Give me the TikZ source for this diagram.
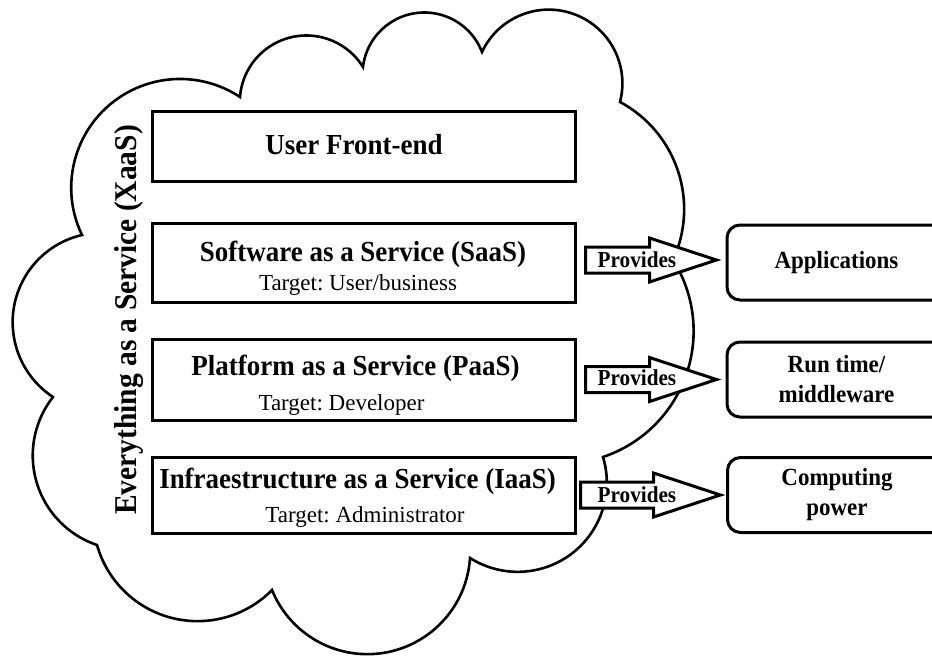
\documentclass[tikz,border=0pt]{standalone}
\usepackage{fontspec}
\setmainfont{Liberation Serif}
\newfontfamily\narrowserif[FakeStretch=0.93]{Liberation Serif}
\usetikzlibrary{calc,svg.path}
\frenchspacing

\tikzset{
  cloudline/.style={draw=black, line width=2.6pt, line join=miter},
  layer/.style={draw=black, fill=white, line width=3pt, rectangle,
    minimum width=423pt, inner sep=0pt},
  outbox/.style={draw=black, fill=white, line width=3pt, rectangle,
    rounded corners=13pt, minimum width=219pt, minimum height=75pt,
    align=center, inner sep=0pt,
    font=\narrowserif\fontsize{24.7}{30}\selectfont\bfseries},
  headtext/.style={inner sep=0pt, font=\narrowserif\fontsize{29}{30}\selectfont\bfseries},
  targettext/.style={inner sep=0pt, font=\fontsize{23}{26}\selectfont},
  sidetext/.style={inner sep=0pt, font=\narrowserif\fontsize{31.7}{32}\selectfont\bfseries},
  provtext/.style={inner sep=0pt, font=\narrowserif\fontsize{22.8}{24}\selectfont\bfseries},
  blockarrow/.style={draw=black, fill=white, line width=3pt, line join=miter},
}

% block arrow from a tail coordinate (#1) to a tip coordinate (#2)
\newcommand\provarrow[2]{%
  \draw[blockarrow] let \p1=(#1), \p2=(#2) in
    (\x1,{\y1+13pt}) -- ({\x2-67pt},{\y1+13pt}) -- ({\x2-67pt},{\y1+22pt})
    -- (\x2,\y1) -- ({\x2-67pt},{\y1-22pt}) -- ({\x2-67pt},{\y1-13pt})
    -- (\x1,{\y1-13pt}) -- cycle;
}

\begin{document}
\begin{tikzpicture}[x=1pt, y=-1pt]
\useasboundingbox (0,0) rectangle (932,658);
\clip (0,0) rectangle (932,658);

% the cloud: circular lobes from cusp to cusp, y axis pointing up
\draw[cloudline] svg "M 53 -397
  A 89.5 89.5 0 0 0 82 -235
  A 108.8 108.8 0 0 0 240 -97
  A 66.6 66.6 0 0 0 363 -67
  A 61.8 61.8 0 0 0 482 -52
  A 73.7 73.7 0 0 0 620 -102
  A 121.6 121.6 0 0 0 673 -260
  A 132.8 132.8 0 0 0 603 -457
  A 89.1 89.1 0 0 0 470 -558
  A 102.9 102.9 0 0 0 272 -590
  A 104.5 104.5 0 0 0 97 -545
  A 94.5 94.5 0 0 0 53 -397 Z";

% service layers
\node[layer, minimum height=70pt] (fe)   at (363.5,147)   {};
\node[layer, minimum height=79pt] (saas) at (363.5,262.5) {};
\node[layer, minimum height=81pt] (paas) at (363.5,379.5) {};
\node[layer, minimum height=76pt] (iaas) at (363.5,495)   {};

\node[headtext, anchor=base] (feh) at (354,154) {User Front-end};
\node[headtext, anchor=base] (saash) at (363,261) {Software as a Service (SaaS)};
\node[targettext, anchor=base] (saast) at (358,290) {Target: User/business};
\node[headtext, anchor=base] (paash) at (355.5,375) {Platform as a Service (PaaS)};
\node[targettext, anchor=base] (paast) at (341.5,410) {Target: Developer};
\node[headtext, anchor=base] (iaash) at (357.5,488) {Infraestructure as a Service (IaaS)};
\node[targettext, anchor=base] (iaast) at (365,522) {Target: Administrator};

\node[sidetext, rotate=90, anchor=base] (xaas) at (136,320) {Everything as a Service (XaaS)};

% what each layer provides
\node[outbox] (app) at (836.5,262.5) {Applications};
\node[outbox] (run) at (836.5,379.5) {Run time/\\middleware};
\node[outbox] (cmp) at (837,495) {Computing\\power};

\coordinate (t1) at ($(saas.east)+(9,-2.5)$);
\coordinate (h1) at ($(app.west)+(-9,0)$);
\coordinate (t2) at ($(paas.east)+(9,0)$);
\coordinate (h2) at ($(run.west)+(-9,0)$);
\coordinate (t3) at ($(iaas.east)+(4,0)$);
\coordinate (h3) at ($(cmp.west)+(-5.5,0)$);

\provarrow{t1}{h1}
\provarrow{t2}{h2}
\provarrow{t3}{h3}

\node[provtext, anchor=base west] (p1) at ($(t1)+(12,7)$) {Provides};
\node[provtext, anchor=base west] (p2) at ($(t2)+(12,6)$) {Provides};
\node[provtext, anchor=base west] (p3) at ($(t3)+(17,7)$) {Provides};
\end{tikzpicture}
\end{document}
